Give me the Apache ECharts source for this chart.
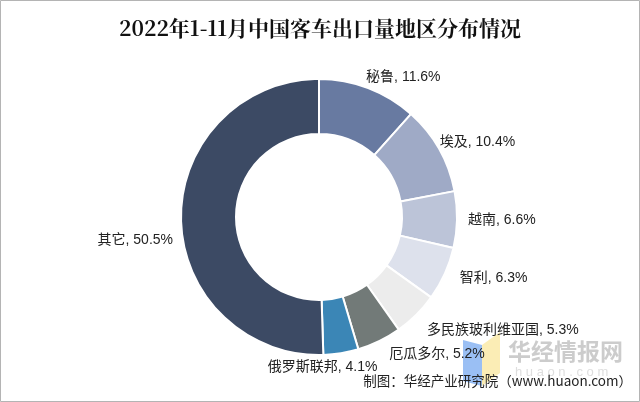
<!DOCTYPE html>
<html>
<head>
<meta charset="utf-8">
<script src="https://cdn.jsdelivr.net/npm/echarts@6/dist/echarts.min.js"></script>
<style>
html,body{margin:0;padding:0;background:#fff;}
#chart{width:640px;height:402px;}
</style>
</head>
<body>
<div id="chart"></div>
<script>
var titleText = '2022年1-11月中国客车出口量地区分布情况';
var categories = ['秘鲁', '埃及', '越南', '智利', '多民族玻利维亚国', '厄瓜多尔', '俄罗斯联邦', '其它'];
var values = [11.6, 10.4, 6.6, 6.3, 5.3, 5.2, 4.1, 50.5];
var colors = ['#687aa1', '#9faac6', '#bcc4d8', '#dde1ec', '#ececec', '#727a78', '#3b86b6', '#3c4a64'];
var sourceText = '制图：华经产业研究院（www.huaon.com）';

// small per-label nudges to mimic the original label placement
var labelNudge = [[-11, -1], [-14, -1], [-5, 0], [0, 0], [-2, 7], [0, 3], [-80, 3], [8, 21]];

var chart = echarts.init(document.getElementById('chart'));
var data = categories.map(function (c, i) {
  return { name: c, value: values[i], itemStyle: { color: colors[i] } };
});
chart.setOption({
  animation: false,
  backgroundColor: '#fff',
  title: {
    text: titleText,
    left: 'center',
    top: 13,
    textStyle: {
      fontFamily: '"Noto Serif CJK SC", "Noto Sans CJK SC", serif',
      fontSize: 21,
      fontWeight: 'bold',
      color: '#111'
    }
  },
  graphic: [
    { type: 'rect', shape: { x: 0.5, y: 0.5, width: 639, height: 401 }, style: { fill: 'none', stroke: '#b4b4b4', lineWidth: 1 }, silent: true },
    { type: 'polygon', shape: { points: [[463, 340], [482, 345], [482, 386], [463, 381]] }, style: { fill: 'rgba(120,170,240,0.75)' }, silent: true },
    { type: 'polygon', shape: { points: [[482, 345], [500, 332], [500, 373], [482, 386]] }, style: { fill: 'rgba(250,230,150,0.7)' }, silent: true },
    { type: 'text', left: 508, top: 340, style: { text: '华经情报网', font: 'bold 23px "Noto Sans CJK SC"', fill: 'rgba(170,170,170,0.6)' }, silent: true },
    { type: 'text', left: 515, top: 366, style: { text: 'h u a o n . c o m', font: '13px Arial', fill: 'rgba(200,200,200,0.6)' }, silent: true },
    { type: 'text', right: 8, top: 374, style: { text: sourceText, font: '13.5px "Noto Sans CJK SC", "Liberation Sans"', fill: '#222' }, z: 10, silent: true }
  ],
  series: [{
    type: 'pie',
    center: [319, 217],
    radius: [83, 138],
    startAngle: 90,
    clockwise: true,
    avoidLabelOverlap: false,
    itemStyle: { borderColor: '#fff', borderWidth: 2 },
    label: {
      show: true,
      position: 'outside',
      formatter: function (p) { return p.name + ', ' + p.value.toFixed(1) + '%'; },
      fontSize: 14,
      fontFamily: '"Liberation Sans", "Noto Sans CJK SC", Arial, sans-serif',
      color: '#222'
    },
    labelLine: { show: false, length: 11, length2: 0 },
    labelLayout: function (p) {
      var n = labelNudge[p.dataIndex] || [0, 0];
      return { dx: n[0], dy: n[1] };
    },
    data: data
  }]
});
</script>
</body>
</html>
